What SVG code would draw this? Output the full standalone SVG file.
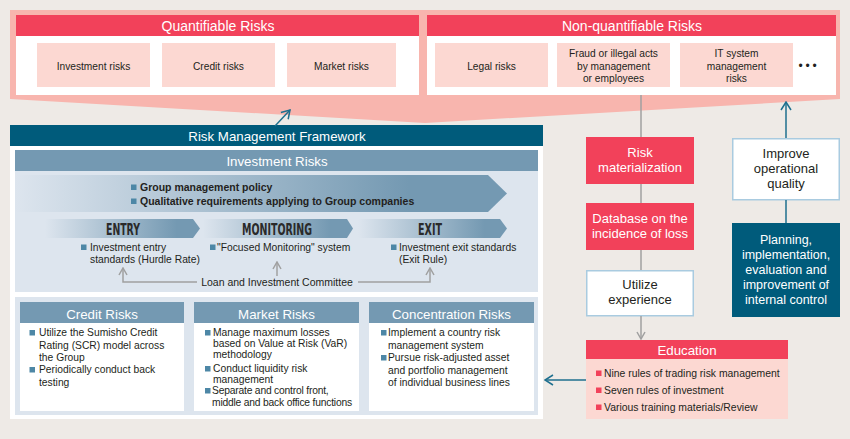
<svg xmlns="http://www.w3.org/2000/svg" width="850" height="439" viewBox="0 0 850 439">
<defs>
<style>
text{font-family:"Liberation Sans",Arial,sans-serif;fill:#231F20}
.w{fill:#fff}
.hd{font-size:13.3px;text-anchor:middle;fill:#fff}
.rk{font-size:10.2px;text-anchor:middle}
.b{font-size:10.3px}
.bb{font-size:10.5px;font-weight:bold}
.st{font-family:"DejaVu Sans Condensed","DejaVu Sans",sans-serif;font-weight:bold;font-size:16.5px;text-anchor:middle;fill:#2a2a2a}
.bx{font-size:13px;text-anchor:middle}
.red{fill:#F2415A}
.sub{fill:#FCD8D2}
.steel{fill:#7499B2}
.pale{fill:#DDE5EE}
.bt{fill:#4D87A6}
.br{fill:#F2415A}
.gl{fill:none;stroke:#A0A0A0;stroke-width:1.5}
.tl{fill:none;stroke:#1E6F8E;stroke-width:1.5}
</style>
<marker id="ag" viewBox="0 0 10 10" refX="9" refY="5" markerWidth="10" markerHeight="10" markerUnits="userSpaceOnUse" orient="auto"><path d="M2,1 L9,5 L2,9" fill="none" stroke="#A0A0A0" stroke-width="1.5"/></marker>
<marker id="at" viewBox="0 0 12 12" refX="11" refY="6" markerWidth="12" markerHeight="12" markerUnits="userSpaceOnUse" orient="auto"><path d="M3,1 L11,6 L3,11" fill="none" stroke="#1E6F8E" stroke-width="1.5"/></marker>
<linearGradient id="gBig" gradientUnits="userSpaceOnUse" x1="15" y1="0" x2="507" y2="0">
<stop offset="0" stop-color="#7499B2" stop-opacity="0"/>
<stop offset="0.8" stop-color="#7499B2" stop-opacity="1"/>
</linearGradient>
<linearGradient id="gS" x1="0" y1="0" x2="1" y2="0">
<stop offset="0" stop-color="#7499B2" stop-opacity="0"/>
<stop offset="0.85" stop-color="#7499B2" stop-opacity="1"/>
</linearGradient>
</defs>
<rect x="0" y="0" width="850" height="439" fill="#EEEAE6"/>

<g id="risk-band">
<polygon points="10,10 840,10 840,99 425,123 10,99" fill="#F8B5AE"/>
</g>

<g id="quantifiable">
<rect x="16" y="15" width="403" height="80" fill="#fff"/>
<rect x="16" y="15" width="403" height="21" class="red"/>
<text x="218" y="31" class="hd" style="font-size:14px">Quantifiable Risks</text>
<rect x="37" y="43" width="113" height="44" class="sub"/>
<text x="93.5" y="69.5" class="rk">Investment risks</text>
<rect x="162" y="43" width="113" height="44" class="sub"/>
<text x="218.5" y="69.5" class="rk">Credit risks</text>
<rect x="287" y="43" width="109" height="44" class="sub"/>
<text x="341.5" y="69.5" class="rk">Market risks</text>
</g>

<g id="nonquantifiable">
<rect x="427" y="15" width="409" height="80" fill="#fff"/>
<rect x="427" y="15" width="409" height="21" class="red"/>
<text x="632" y="31" class="hd" style="font-size:14px">Non-quantifiable Risks</text>
<rect x="435" y="43" width="113" height="44" class="sub"/>
<text x="491.5" y="69.5" class="rk">Legal risks</text>
<rect x="557" y="43" width="113" height="44" class="sub"/>
<text x="613.5" y="57" class="rk">Fraud or illegal acts</text>
<text x="613.5" y="70" class="rk">by management</text>
<text x="613.5" y="82" class="rk">or employees</text>
<rect x="680" y="43" width="113" height="44" class="sub"/>
<text x="736.5" y="57" class="rk">IT system</text>
<text x="736.5" y="70" class="rk">management</text>
<text x="736.5" y="82" class="rk">risks</text>
<text x="798.5" y="70" style="font-size:12px;letter-spacing:2.8px">•••</text>
</g>

<g id="framework">
<rect x="10" y="125" width="533" height="21" fill="#005B7B"/>
<text x="277" y="141" class="hd">Risk Management Framework</text>
<rect x="10" y="146" width="533" height="273" fill="#fff"/>
</g>

<g id="investment-risks">
<rect x="15" y="150" width="523" height="142" class="pale"/>
<rect x="15" y="150" width="523" height="21" class="steel"/>
<text x="277" y="166" class="hd">Investment Risks</text>
<polygon points="15,175 488,175 507,193.5 488,212 15,212" fill="url(#gBig)"/>
<rect x="131" y="184.5" width="5.5" height="5.5" class="bt"/>
<text x="140" y="191" class="bb">Group management policy</text>
<rect x="131" y="198.5" width="5.5" height="5.5" class="bt"/>
<text x="140" y="205" class="bb">Qualitative requirements applying to Group companies</text>

<polygon points="45,219 193,219 200,228.5 193,238 45,238" fill="url(#gS)"/>
<polygon points="203,219 347,219 353,228.5 347,238 203,238" fill="url(#gS)"/>
<polygon points="358,219 500,219 507,228.5 500,238 358,238" fill="url(#gS)"/>
<text x="123" y="235" class="st" textLength="34" lengthAdjust="spacingAndGlyphs">ENTRY</text>
<text x="277" y="235" class="st" textLength="70" lengthAdjust="spacingAndGlyphs">MONITORING</text>
<text x="430" y="235" class="st" textLength="24" lengthAdjust="spacingAndGlyphs">EXIT</text>

<rect x="81" y="244.5" width="5.5" height="5.5" class="bt"/>
<text x="90" y="251" class="b">Investment entry</text>
<text x="90" y="263" class="b">standards (Hurdle Rate)</text>
<rect x="210" y="244.5" width="5.5" height="5.5" class="bt"/>
<text x="217" y="251" class="b">"Focused Monitoring" system</text>
<rect x="391" y="244.5" width="5.5" height="5.5" class="bt"/>
<text x="399" y="251" class="b">Investment exit standards</text>
<text x="399" y="263" class="b">(Exit Rule)</text>
<text x="277" y="286" class="b" style="text-anchor:middle;font-size:10.5px">Loan and Investment Committee</text>
</g>

<g id="risk-cards">
<rect x="15" y="297" width="523" height="118" class="pale"/>
<g id="credit-risks">
<rect x="20" y="302" width="164" height="109" fill="#fff"/>
<rect x="20" y="302" width="164" height="21" class="steel"/>
<text x="102" y="318.5" class="hd">Credit Risks</text>
<rect x="29.5" y="330" width="5.5" height="5.5" class="bt"/>
<text x="39" y="336" class="b">Utilize the Sumisho Credit</text>
<text x="39" y="348.5" class="b">Rating (SCR) model across</text>
<text x="39" y="361" class="b">the Group</text>
<rect x="29.5" y="367" width="5.5" height="5.5" class="bt"/>
<text x="39" y="373" class="b">Periodically conduct back</text>
<text x="39" y="385.5" class="b">testing</text>
</g>
<g id="market-risks">
<rect x="194" y="302" width="165" height="109" fill="#fff"/>
<rect x="194" y="302" width="165" height="21" class="steel"/>
<text x="276.5" y="318.5" class="hd">Market Risks</text>
<rect x="205" y="330" width="5.5" height="5.5" class="bt"/>
<text x="213" y="336" class="b">Manage maximum losses</text>
<text x="213" y="347" class="b">based on Value at Risk (VaR)</text>
<text x="213" y="358" class="b">methodology</text>
<rect x="205" y="366" width="5.5" height="5.5" class="bt"/>
<text x="213" y="372" class="b">Conduct liquidity risk</text>
<text x="213" y="383" class="b">management</text>
<rect x="205" y="388" width="5.5" height="5.5" class="bt"/>
<text x="212" y="394" class="b" style="letter-spacing:-0.2px">Separate and control front,</text>
<text x="212" y="406" class="b" style="letter-spacing:-0.2px">middle and back office functions</text>
</g>
<g id="concentration-risks">
<rect x="369" y="302" width="165" height="109" fill="#fff"/>
<rect x="369" y="302" width="165" height="21" class="steel"/>
<text x="451.5" y="318.5" class="hd">Concentration Risks</text>
<rect x="381" y="330" width="5.5" height="5.5" class="bt"/>
<text x="388" y="336" class="b">Implement a country risk</text>
<text x="388" y="348.5" class="b">management system</text>
<rect x="381" y="355" width="5.5" height="5.5" class="bt"/>
<text x="388" y="361" class="b">Pursue risk-adjusted asset</text>
<text x="388" y="373.5" class="b">and portfolio management</text>
<text x="388" y="386" class="b">of individual business lines</text>
</g>
</g>

<g id="risk-materialization">
<rect x="586" y="137" width="108" height="47" class="red"/>
<text x="640" y="157" class="bx w">Risk</text>
<text x="640" y="172" class="bx w">materialization</text>
</g>
<g id="loss-database">
<rect x="586" y="203" width="108" height="47" class="red"/>
<text x="640" y="223" class="bx w">Database on the</text>
<text x="640" y="238" class="bx w">incidence of loss</text>
</g>
<g id="utilize-experience">
<rect x="586.75" y="270.75" width="106.5" height="45" fill="#fff" stroke="#A9CBE0" stroke-width="1.5"/>
<text x="640" y="289" class="bx">Utilize</text>
<text x="640" y="304" class="bx">experience</text>
</g>
<g id="education">
<rect x="586" y="340" width="202" height="79" class="sub"/>
<rect x="586" y="340" width="202" height="19" class="red"/>
<text x="687" y="355" class="hd">Education</text>
<rect x="596" y="370.5" width="5.5" height="5.5" class="br"/>
<text x="604" y="376.5" class="b" style="font-size:10.4px">Nine rules of trading risk management</text>
<rect x="596" y="387.5" width="5.5" height="5.5" class="br"/>
<text x="604" y="393.5" class="b" style="font-size:10.4px">Seven rules of investment</text>
<rect x="596" y="404.5" width="5.5" height="5.5" class="br"/>
<text x="604" y="410.5" class="b" style="font-size:10.4px">Various training materials/Review</text>
</g>
<g id="improve-quality">
<rect x="732.75" y="138.75" width="106.5" height="61" fill="#fff" stroke="#A9CBE0" stroke-width="1.5"/>
<text x="786" y="158" class="bx">Improve</text>
<text x="786" y="173" class="bx">operational</text>
<text x="786" y="188" class="bx">quality</text>
</g>
<g id="internal-control">
<rect x="732" y="223" width="108" height="94" fill="#005B7B"/>
<text x="786" y="244" class="bx w" style="font-size:12.5px">Planning,</text>
<text x="786" y="259" class="bx w" style="font-size:12.5px">implementation,</text>
<text x="786" y="274" class="bx w" style="font-size:12.5px">evaluation and</text>
<text x="786" y="289" class="bx w" style="font-size:12.5px">improvement of</text>
<text x="786" y="304" class="bx w" style="font-size:12.5px">internal control</text>
</g>

<g id="connectors">
<path class="tl" d="M275,126 L290,110" marker-end="url(#at)"/>
<path class="gl" d="M197,282 H123 V268" marker-end="url(#ag)"/>
<path class="gl" d="M277,276 V262" marker-end="url(#ag)"/>
<path class="gl" d="M358,282 H430 V268" marker-end="url(#ag)"/>
<path class="gl" d="M641,95 V137"/>
<path class="gl" d="M641,184 V203"/>
<path class="gl" d="M641,250 V270"/>
<path class="gl" d="M641,316 V339" marker-end="url(#ag)"/>
<path class="tl" d="M786,138 V102" marker-end="url(#at)"/>
<path class="tl" d="M786,200 V223"/>
<path class="tl" d="M586,380 H545" marker-end="url(#at)"/>
</g>
</svg>
